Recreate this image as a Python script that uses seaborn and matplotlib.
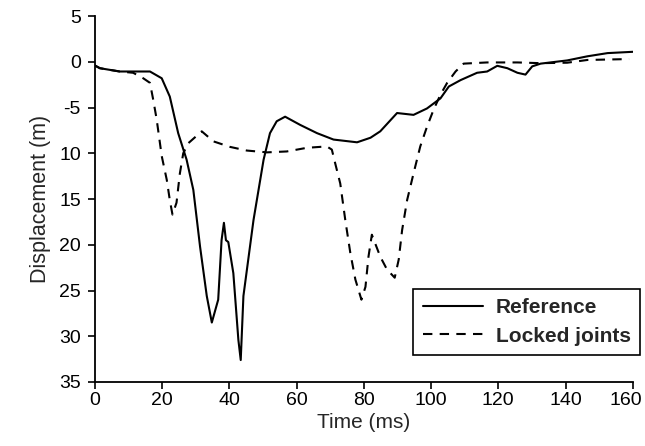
import matplotlib
matplotlib.use("Agg")
import matplotlib.pyplot as plt
from matplotlib.transforms import ScaledTranslation
import seaborn as sns
import pandas as pd

ref_t = [0, 1.5, 7.4, 16.4, 19.9, 22.3, 24.8, 27.3, 29.3, 31.3, 33.3, 34.8, 36.7, 37.7, 38.4, 39.0, 39.7,
         41.2, 42.7, 43.4, 44.2, 47.2, 50.2, 52.1, 54.1, 56.6, 61.1, 66.1, 71.0, 78.0, 82.0, 84.9, 89.9,
         94.8, 98.8, 102.8, 105.3, 108.8, 113.7, 116.7, 119.7, 122.7, 125.7, 128.1, 130.1, 132.6, 140.5,
         146.5, 152.5, 160.4]
ref_v = [-0.4, -0.7, -1.06, -1.06, -1.8, -3.8, -7.8, -10.7, -14.0, -20.2, -25.6, -28.5, -26.0, -19.5, -17.6,
         -19.5, -19.7, -23.1, -30.4, -32.6, -25.6, -17.3, -10.7, -7.8, -6.5, -6.0, -6.9, -7.8, -8.5, -8.8,
         -8.3, -7.6, -5.6, -5.8, -5.1, -4.0, -2.7, -2.0, -1.2, -1.06, -0.44, -0.7, -1.2, -1.4, -0.5, -0.2,
         0.15, 0.6, 0.95, 1.1]

lock_t = [0, 1.5, 7.4, 11.4, 14.4, 16.4, 17.4, 18.4, 19.9, 21.4, 22.3, 23.1, 24.3, 25.3, 26.3, 27.8, 31.8,
          35.3, 40.2, 45.2, 51.2, 57.1, 63.1, 69.0, 70.5, 71.5, 73.0, 74.5, 76.0, 77.5, 79.3, 80.5, 81.4,
          82.4, 84.9, 86.9, 89.2, 90.4, 91.4, 92.9, 94.8, 96.8, 98.8, 100.8, 102.8, 104.8, 107.3, 109.7,
          116.7, 125.7, 132.6, 140.5, 146.5, 158.9]
lock_v = [-0.4, -0.7, -1.06, -1.2, -1.8, -2.3, -4.2, -6.3, -10.3, -12.9, -15.1, -16.7, -15.4, -12.2, -10.0,
          -8.9, -7.6, -8.7, -9.3, -9.7, -9.9, -9.8, -9.4, -9.25, -9.6, -11.1, -13.3, -17.3, -20.9, -23.8,
          -26.0, -24.6, -21.3, -18.9, -21.3, -22.7, -23.6, -21.6, -18.4, -15.1, -12.2, -9.25, -7.1, -5.2,
          -3.6, -2.3, -1.06, -0.2, -0.07, -0.07, -0.15, -0.1, 0.2, 0.3]

x_ticks = [0, 20, 40, 60, 80, 100, 120, 140, 160]
y_ticks = [5, 0, -5, -10, -15, -20, -25, -30, -35]
y_tick_labels = ["5", "0", "-5", "10", "15", "20", "25", "30", "35"]

sns.set_style("ticks")
plt.rcParams["font.family"] = ["Liberation Sans", "DejaVu Sans"]

fig = plt.figure(figsize=(6.45, 4.46), dpi=100)
ax = fig.add_axes([0.147, 0.1435, 0.834, 0.8205])

df_ref = pd.DataFrame({"t": ref_t, "v": ref_v})
df_lock = pd.DataFrame({"t": lock_t, "v": lock_v})
sns.lineplot(data=df_ref, x="t", y="v", ax=ax, color="black", lw=1.5, sort=False,
             estimator=None, label="Reference")
sns.lineplot(data=df_lock, x="t", y="v", ax=ax, color="black", lw=1.5, sort=False,
             estimator=None, label="Locked joints", linestyle=(0, (4.5, 3.5)))

ax.set_xlim(0, 160)
ax.set_ylim(-35, 5)
ax.set_xticks(x_ticks)
ax.set_xticklabels([str(v) for v in x_ticks])
ax.set_yticks(y_ticks)
ax.set_yticklabels(y_tick_labels)
ax.tick_params(direction="out", length=5, width=1.2, labelsize=14, colors="black")
ax.tick_params(axis="x", pad=2)
ax.tick_params(axis="y", pad=5)
for s in ["top", "right"]:
    ax.spines[s].set_visible(False)
for s in ["left", "bottom"]:
    ax.spines[s].set_linewidth(1.3)
    ax.spines[s].set_color("black")

last = ax.get_xticklabels()[-1]
last.set_transform(last.get_transform() + ScaledTranslation(-5 / 72, 0, fig.dpi_scale_trans))

ax.set_xlabel("Time (ms)", fontsize=15, labelpad=3)
ax.set_ylabel("Displacement (m)", fontsize=15.5, labelpad=6)

leg = ax.legend(loc="lower right", bbox_to_anchor=(640 / 645, 1 - 355 / 446),
                bbox_transform=fig.transFigure, borderaxespad=0, frameon=True,
                fancybox=False, edgecolor="black", framealpha=1, facecolor="white",
                prop={"weight": "bold", "size": 15},
                handlelength=2.9, handletextpad=0.6, borderpad=0.45, labelspacing=0.45)
leg.get_frame().set_linewidth(1.2)

fig.savefig("out.png", dpi=100)
